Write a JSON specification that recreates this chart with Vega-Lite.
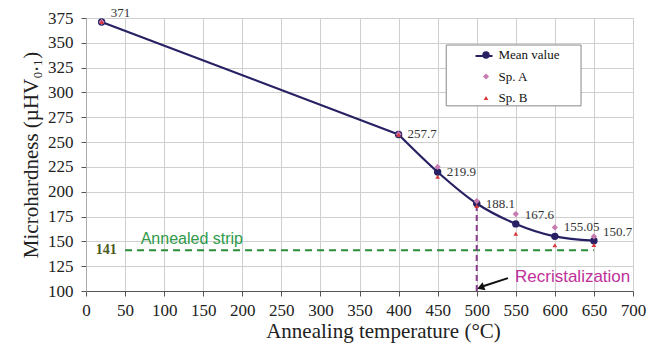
{
  "$schema": "https://vega.github.io/schema/vega-lite/v6.json",
  "width": 547,
  "height": 273,
  "autosize": {"type": "none"},
  "padding": {"left": 86, "top": 18, "right": 22, "bottom": 56},
  "background": "white",
  "config": {
    "view": {"stroke": "#c8c8c8", "strokeWidth": 1},
    "font": "Liberation Serif",
    "axis": {
      "labelFont": "Liberation Serif",
      "titleFont": "Liberation Serif",
      "labelFontSize": 17,
      "titleFontSize": 21,
      "titleFontWeight": "normal",
      "labelColor": "#222",
      "titleColor": "#222",
      "gridColor": "#cfcfcf",
      "gridWidth": 1,
      "tickColor": "#555",
      "tickSize": 5,
      "labelFlush": false,
      "labelOverlap": false
    }
  },
  "datasets": {
    "hv": [
      {"temp": 20, "series": "Mean value", "hv": 371},
      {"temp": 400, "series": "Mean value", "hv": 257.7},
      {"temp": 450, "series": "Mean value", "hv": 219.9},
      {"temp": 500, "series": "Mean value", "hv": 188.1},
      {"temp": 550, "series": "Mean value", "hv": 167.6},
      {"temp": 600, "series": "Mean value", "hv": 155.05},
      {"temp": 650, "series": "Mean value", "hv": 150.7},
      {"temp": 20, "series": "Sp. A", "hv": 371},
      {"temp": 400, "series": "Sp. A", "hv": 258},
      {"temp": 450, "series": "Sp. A", "hv": 225},
      {"temp": 500, "series": "Sp. A", "hv": 190.6},
      {"temp": 550, "series": "Sp. A", "hv": 177.5},
      {"temp": 600, "series": "Sp. A", "hv": 164},
      {"temp": 650, "series": "Sp. A", "hv": 155},
      {"temp": 20, "series": "Sp. B", "hv": 371},
      {"temp": 400, "series": "Sp. B", "hv": 257.4},
      {"temp": 450, "series": "Sp. B", "hv": 215},
      {"temp": 500, "series": "Sp. B", "hv": 185.6},
      {"temp": 550, "series": "Sp. B", "hv": 157.7},
      {"temp": 600, "series": "Sp. B", "hv": 146.1},
      {"temp": 650, "series": "Sp. B", "hv": 146.4}
    ]
  },
  "data": {"name": "hv"},
  "encoding": {
    "x": {
      "field": "temp", "type": "quantitative",
      "scale": {"domain": [0, 700], "nice": false},
      "axis": {"values": [0,50,100,150,200,250,300,350,400,450,500,550,600,650,700], "title": "Annealing temperature (°C)", "domainColor": "#555", "labelPadding": 6, "titlePadding": 2, "titleX": 297}
    },
    "y": {
      "field": "hv", "type": "quantitative",
      "scale": {"domain": [100, 375], "nice": false, "zero": false},
      "axis": {"values": [100,125,150,175,200,225,250,275,300,325,350,375], "title": "Microhardness (µHV₀.₁)", "domainColor": "#aaa", "labelPadding": 8, "titlePadding": 6}
    }
  },
  "layer": [
    {
      "transform": [{"filter": "datum.series === 'Mean value' && datum.temp === 20"}],
      "mark": {"type": "rect", "fill": "white", "stroke": "#888", "strokeWidth": 1},
      "encoding": {
        "x": {"datum": 461, "type": "quantitative"},
        "x2": {"datum": 633.5},
        "y": {"datum": 286.5, "type": "quantitative"},
        "y2": {"datum": 347.8}
      }
    },
    {
      "transform": [{"filter": "datum.series === 'Mean value' && datum.temp === 20"}],
      "mark": {"type": "rule", "stroke": "#2b8a3a", "strokeWidth": 2, "strokeDash": [7, 5]},
      "encoding": {
        "x": {"datum": 50, "type": "quantitative"},
        "x2": {"datum": 650},
        "y": {"datum": 141, "type": "quantitative"}
      }
    },
    {
      "transform": [{"filter": "datum.series === 'Mean value' && datum.temp === 20"}],
      "mark": {"type": "rule", "stroke": "#8a3a8a", "strokeWidth": 2, "strokeDash": [6, 4]},
      "encoding": {
        "x": {"datum": 500, "type": "quantitative"},
        "y": {"datum": 100, "type": "quantitative"},
        "y2": {"datum": 188.1}
      }
    },
    {
      "transform": [{"filter": "datum.series === 'Mean value' && datum.temp <= 400"}],
      "mark": {"type": "line", "interpolate": "linear", "strokeWidth": 2.2},
      "encoding": {
        "stroke": {
          "datum": "Mean value", "type": "nominal",
          "scale": {"domain": ["Mean value"], "range": ["#272164"]},
          "legend": {
            "title": null,
            "orient": "none",
            "legendX": 388.5,
            "legendY": 28.5,
            "padding": 0,
            "symbolSize": 289,
            "symbolStrokeWidth": 2,
            "labelFontSize": 13,
            "labelOpacity": 0,
            "labelOffset": 6
          }
        }
      }
    },
    {
      "transform": [{"filter": "datum.series === 'Mean value' && datum.temp >= 400"}],
      "mark": {"type": "line", "interpolate": "monotone", "strokeWidth": 2.2},
      "encoding": {
        "stroke": {"datum": "Mean value", "type": "nominal"}
      }
    },
    {
      "mark": {"type": "point", "filled": true, "opacity": 1},
      "encoding": {
        "color": {
          "field": "series", "type": "nominal",
          "scale": {"domain": ["Mean value", "Sp. A", "Sp. B"], "range": ["#272164", "#c77bb0", "#d9383a"]},
          "legend": {
            "title": null,
            "orient": "none",
            "legendX": 393.5,
            "legendY": 30.5,
            "padding": 0,
            "labelFont": "Liberation Serif",
            "labelFontSize": 13,
            "labelColor": "#111",
            "rowPadding": 7.5,
            "labelOffset": 6
          }
        },
        "shape": {
          "field": "series", "type": "nominal",
          "scale": {"domain": ["Mean value", "Sp. A", "Sp. B"], "range": ["circle", "diamond", "triangle-up"]},
          "legend": null
        },
        "size": {
          "field": "series", "type": "nominal",
          "scale": {"domain": ["Mean value", "Sp. A", "Sp. B"], "range": [55, 22, 24]},
          "legend": null
        },
        "order": {"field": "series", "type": "nominal"}
      }
    },
    {
      "transform": [{"filter": "datum.series === 'Mean value' && (datum.hv > 300 || datum.hv < 180)"}],
      "mark": {"type": "text", "align": "left", "baseline": "middle", "dx": 9, "dy": -9, "font": "Liberation Serif", "fontSize": 13, "color": "#333"},
      "encoding": {"text": {"field": "hv", "type": "nominal"}}
    },
    {
      "transform": [{"filter": "datum.series === 'Mean value' && datum.hv >= 180 && datum.hv <= 300"}],
      "mark": {"type": "text", "align": "left", "baseline": "middle", "dx": 9, "dy": 0, "font": "Liberation Serif", "fontSize": 13, "color": "#333"},
      "encoding": {"text": {"field": "hv", "type": "nominal"}}
    },
    {
      "transform": [{"filter": "datum.series === 'Mean value' && datum.temp === 20"}],
      "mark": {"type": "text", "align": "left", "baseline": "middle", "font": "Liberation Sans", "fontSize": 16, "color": "#2e9a4a"},
      "encoding": {
        "x": {"datum": 70, "type": "quantitative"},
        "y": {"datum": 152, "type": "quantitative"},
        "text": {"value": "Annealed strip"}
      }
    },
    {
      "transform": [{"filter": "datum.series === 'Mean value' && datum.temp === 20"}],
      "mark": {"type": "text", "align": "center", "baseline": "middle", "font": "Liberation Serif", "fontSize": 14, "fontWeight": "bold", "color": "#4a5a20"},
      "encoding": {
        "x": {"datum": 26, "type": "quantitative"},
        "y": {"datum": 141, "type": "quantitative"},
        "text": {"value": "141"}
      }
    },
    {
      "transform": [{"filter": "datum.series === 'Mean value' && datum.temp === 20"}],
      "mark": {"type": "text", "align": "left", "baseline": "middle", "font": "Liberation Sans", "fontSize": 17, "color": "#c0309a"},
      "encoding": {
        "x": {"datum": 549, "type": "quantitative"},
        "y": {"datum": 114, "type": "quantitative"},
        "text": {"value": "Recristalization"}
      }
    },
    {
      "transform": [{"filter": "datum.series === 'Mean value' && datum.temp === 20"}],
      "mark": {"type": "rule", "stroke": "#111", "strokeWidth": 2},
      "encoding": {
        "x": {"datum": 540, "type": "quantitative"},
        "y": {"datum": 113, "type": "quantitative"},
        "x2": {"datum": 507},
        "y2": {"datum": 104.5}
      }
    },
    {
      "transform": [{"filter": "datum.series === 'Mean value' && datum.temp === 20"}],
      "mark": {"type": "point", "shape": "triangle-up", "filled": true, "color": "#111", "size": 70, "angle": 250, "opacity": 1},
      "encoding": {
        "x": {"datum": 505, "type": "quantitative"},
        "y": {"datum": 103.5, "type": "quantitative"}
      }
    }
  ]
}
